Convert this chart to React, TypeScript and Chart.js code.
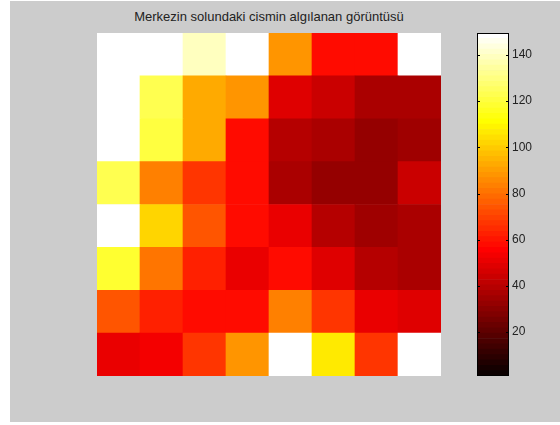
import React, { useEffect, useRef } from "react";
import { Chart, registerables } from "chart.js";

Chart.register(...registerables);

const TITLE = "Merkezin solundaki cismin algılanan görüntüsü";
const COLUMNS = ["1", "2", "3", "4", "5", "6", "7", "8"];

// rows from top to bottom
const ROW_1 = [149.5, 149.5, 139, 149.5, 88, 59, 59, 149.5];
const ROW_2 = [149.5, 122.8, 92, 89, 48.6, 43.9, 37, 37];
const ROW_3 = [149.5, 120.5, 92, 59, 39.3, 37, 32.3, 34.6];
const ROW_4 = [122.8, 83.4, 67, 58, 37, 33, 33, 43.9];
const ROW_5 = [149.5, 102, 73.5, 58, 50.9, 39.3, 34.6, 37];
const ROW_6 = [118.2, 80, 62.5, 50.9, 59, 49, 40, 37];
const ROW_7 = [73.5, 62.5, 58, 57.8, 83.4, 67, 50, 48.6];
const ROW_8 = [50, 53.2, 67, 89, 149.5, 106.6, 67, 149.5];
const ROWS = [ROW_1, ROW_2, ROW_3, ROW_4, ROW_5, ROW_6, ROW_7, ROW_8];

const CMIN = 1;
const CMAX = 149.5;
const COLORBAR_TICKS = [20, 40, 60, 80, 100, 120, 140];
const N_COLORS = 64;

function hotIndexColor(i: number): string {
  // MATLAB hot(64), i is 1-based
  const n = 24;
  const r = i <= n ? i / n : 1;
  const g = i <= n ? 0 : i <= 2 * n ? (i - n) / n : 1;
  const b = i <= 2 * n ? 0 : (i - 2 * n) / (N_COLORS - 2 * n);
  const c = (x: number) => Math.round(Math.max(0, Math.min(1, x)) * 255);
  return `rgb(${c(r)},${c(g)},${c(b)})`;
}

function hotValueColor(v: number): string {
  let i = Math.floor(((v - CMIN) / (CMAX - CMIN)) * N_COLORS) + 1;
  i = Math.max(1, Math.min(N_COLORS, i));
  return hotIndexColor(i);
}

const FONT = "'Liberation Sans', Arial, Helvetica, sans-serif";

export default function App() {
  const heatRef = useRef<HTMLCanvasElement | null>(null);
  const barRef = useRef<HTMLCanvasElement | null>(null);

  useEffect(() => {
    if (!heatRef.current || !barRef.current) return;

    const heatDatasets = ROWS.slice()
      .reverse()
      .map((row, k) => ({
        label: "row" + (8 - k),
        data: COLUMNS.map(() => 1),
        backgroundColor: row.map((v) => hotValueColor(v)),
        borderWidth: 0,
        barPercentage: 1,
        categoryPercentage: 1,
        stack: "s",
      }));

    const heat = new Chart(heatRef.current, {
      type: "bar",
      data: { labels: COLUMNS, datasets: heatDatasets as any },
      options: {
        responsive: false,
        animation: false,
        layout: { padding: { left: 97, top: 33, right: 119, bottom: 49 } },
        scales: {
          x: { display: false, stacked: true },
          y: { display: false, stacked: true, min: 0, max: 8 },
        },
        plugins: { legend: { display: false }, tooltip: { enabled: false } },
      },
    });

    const step = (CMAX - CMIN) / N_COLORS;
    const barDatasets = Array.from({ length: N_COLORS }, (_, i) => ({
      label: "c" + i,
      data: [[CMIN + i * step, CMIN + (i + 1) * step]],
      backgroundColor: hotIndexColor(i + 1),
      borderWidth: 0,
      barPercentage: 1,
      categoryPercentage: 1,
      grouped: false,
    }));

    const frame = {
      id: "frame",
      afterDraw(chart: any) {
        const { ctx, chartArea } = chart;
        const y = chart.scales.y;
        ctx.save();
        ctx.strokeStyle = "#000";
        ctx.lineWidth = 1;
        ctx.strokeRect(
          Math.round(chartArea.left) + 0.5,
          Math.round(chartArea.top) + 0.5,
          Math.round(chartArea.right - chartArea.left) - 1,
          Math.round(chartArea.bottom - chartArea.top) - 1
        );
        ctx.beginPath();
        COLORBAR_TICKS.forEach((t) => {
          const py = Math.round(y.getPixelForValue(t)) + 0.5;
          ctx.moveTo(chartArea.left, py);
          ctx.lineTo(chartArea.left + 3, py);
          ctx.moveTo(chartArea.right - 3, py);
          ctx.lineTo(chartArea.right, py);
        });
        ctx.stroke();
        ctx.restore();
      },
    };

    const bar = new Chart(barRef.current, {
      type: "bar",
      data: { labels: ["c"], datasets: barDatasets as any },
      options: {
        responsive: false,
        animation: false,
        layout: { padding: { left: 477, top: 33, right: 0, bottom: 49 } },
        scales: {
          x: { display: false },
          y: {
            position: "right",
            min: CMIN,
            max: CMAX,
            afterFit: (s: any) => {
              s.width = 51;
            },
            afterBuildTicks: (s: any) => {
              s.ticks = COLORBAR_TICKS.map((v) => ({ value: v }));
            },
            grid: { display: false, drawTicks: false },
            border: { display: false },
            ticks: {
              padding: 3,
              color: "#222",
              font: { family: FONT, size: 12 },
            },
          },
        },
        plugins: { legend: { display: false }, tooltip: { enabled: false } },
      },
      plugins: [frame],
    });

    return () => {
      heat.destroy();
      bar.destroy();
    };
  }, []);

  return (
    <div
      style={{
        position: "fixed",
        left: 0,
        top: 0,
        width: 560,
        height: 425,
        background: "#ffffff",
        overflow: "hidden",
      }}
    >
      <div
        style={{
          position: "absolute",
          left: 10,
          top: 1,
          width: 550,
          height: 421,
          background: "#cccccc",
        }}
      />
      <div
        style={{
          position: "absolute",
          left: 97,
          top: 9,
          width: 344,
          textAlign: "center",
          fontFamily: FONT,
          fontSize: 13,
          color: "#222",
          whiteSpace: "nowrap",
        }}
      >
        {TITLE}
      </div>
      <canvas
        ref={heatRef}
        width={560}
        height={425}
        style={{ position: "absolute", left: 0, top: 0, width: 560, height: 425 }}
      />
      <canvas
        ref={barRef}
        width={560}
        height={425}
        style={{ position: "absolute", left: 0, top: 0, width: 560, height: 425 }}
      />
    </div>
  );
}
